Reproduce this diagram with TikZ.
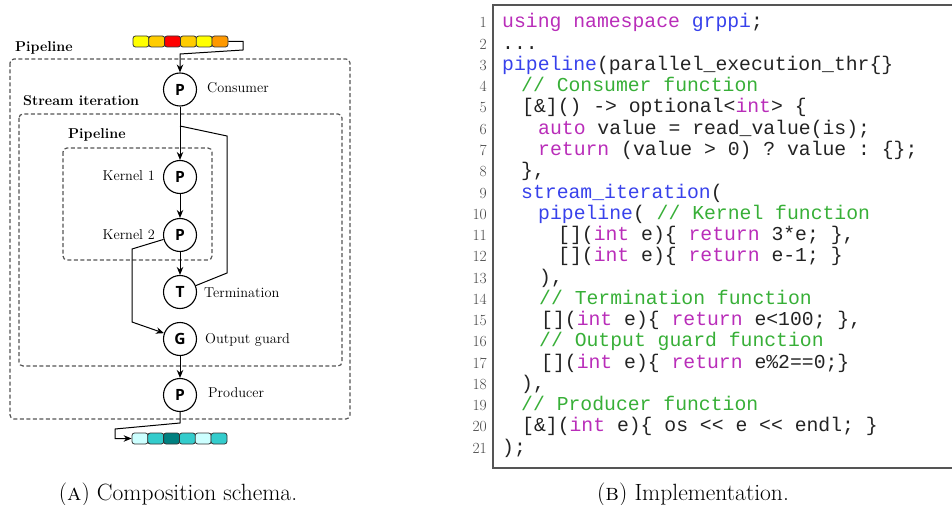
\documentclass[tikz,border=0pt]{standalone}
\usepackage{fontspec}
\setmonofont{Liberation Mono}
\newfontfamily\circfont{Open Sans}
\usetikzlibrary{arrows.meta}

% syntax colours for the listing
\definecolor{kwc}{RGB}{185,45,185}
\definecolor{idc}{RGB}{55,65,235}
\definecolor{cmc}{RGB}{55,175,55}
\definecolor{codetext}{RGB}{35,35,35}
\definecolor{numc}{RGB}{70,70,70}
\definecolor{frame}{RGB}{85,85,85}
% queue cell colours
\definecolor{qy}{RGB}{255,255,0}
\definecolor{qg}{RGB}{255,204,0}
\definecolor{qr}{RGB}{255,0,0}
\definecolor{qo}{RGB}{255,153,0}
\definecolor{ql}{RGB}{204,255,255}
\definecolor{qt}{RGB}{51,204,204}
\definecolor{qd}{RGB}{0,128,128}

\newcommand\kw[1]{\textcolor{kwc}{#1}}
\newcommand\idn[1]{\textcolor{idc}{#1}}
\newcommand\cmnt[1]{\textcolor{cmc}{#1}}

\tikzset{
  dbox/.style={draw=frame, line width=1.2pt, dash pattern=on 4pt off 2.5pt, rounded corners=4pt},
  circ/.style={circle, draw, line width=1.1pt, minimum size=33pt, inner sep=0pt,
    font={\circfont\bfseries\fontsize{15.5}{17}\selectfont}},
  lbl/.style={inner sep=0pt, font={\fontsize{14.3}{16}\selectfont}},
  grp/.style={inner sep=0pt, font={\bfseries\fontsize{14.3}{16}\selectfont}},
  qbox/.style={draw=black!80, line width=0.8pt, rounded corners=2.5pt,
    minimum width=16pt, minimum height=11pt, inner sep=0pt},
  arr/.style={line width=1pt, -{Stealth[length=8pt,width=6.5pt]}},
  wire/.style={line width=1pt},
  codeline/.style={anchor=base west, inner sep=0pt, text=codetext,
    font={\ttfamily\fontsize{19.75}{22}\selectfont}},
  lnum/.style={anchor=base east, inner sep=0pt, text=numc,
    font={\fontsize{15.5}{17}\selectfont}},
  capt/.style={anchor=base, inner sep=0pt, font={\fontsize{23.5}{26}\selectfont}},
}

\begin{document}
\begin{tikzpicture}[x=1pt,y=-1pt]
\useasboundingbox (0,0) rectangle (952,505);

% ---------- composition schema ----------
\draw[dbox] (10,59) rectangle (350,419);
\draw[dbox] (19,114) rectangle (342,366);
\draw[dbox] (63,148) rectangle (212,260);

\node[grp, anchor=base west] (gpipe) at (15,52) {Pipeline};
\node[grp, anchor=base west] (gstream) at (23,106) {Stream iteration};
\node[grp, anchor=base west] (ginner) at (68,139) {Pipeline};

% input and output streams
\foreach \c [count=\i] in {qy,qg,qr,qg,qy,qo}
  \node[qbox, fill=\c] (in\i) at ({141+(\i-1)*15.8},41.5) {};
\foreach \c [count=\i] in {ql,qt,qd,qt,ql,qt}
  \node[qbox, fill=\c] (out\i) at ({140+(\i-1)*15.8},438.5) {};

% stages
\node[circ] (cons) at (180,89.5) {P};
\node[circ] (k1) at (180,177) {P};
\node[circ] (k2) at (180,235) {P};
\node[circ] (term) at (180,292) {T};
\node[circ] (guard) at (180,339) {G};
\node[circ] (prod) at (180,395) {P};

\node[lbl, anchor=base west] (lcons) at (207,93) {Consumer};
\node[lbl, anchor=base east] (lk1) at (155,181) {Kernel 1};
\node[lbl, anchor=base east] (lk2) at (155,239) {Kernel 2};
\node[lbl, anchor=base west] (lterm) at (204,297) {Termination};
\node[lbl, anchor=base west] (lguard) at (205,343.5) {Output guard};
\node[lbl, anchor=base west] (lprod) at (208,397) {Producer};

% connectors
\coordinate (ia) at (243,41.5);
\coordinate (ib) at (243,50);
\coordinate (ic) at (180,54);
\draw[arr] (in6.east) -- (ia) -- (ib) -- (ic) -- (cons.north);
\draw[arr] (cons) -- (k1);
\draw[arr] (k1) -- (k2);
\draw[arr] (k2) -- (term);

\coordinate (fa) at (180,126);
\coordinate (fb) at (227,136);
\coordinate (fc) at (227,273);
\draw[wire] (term.22) -- (fc) -- (fb) -- (fa);

\coordinate (ga) at (132,249);
\coordinate (gb) at (132,322);
\draw[arr] (k2.195) -- (ga) -- (gb) -- (guard.160);
\draw[arr] (guard) -- (prod);

\coordinate (oa) at (180,423);
\coordinate (ob) at (115,429);
\coordinate (oc) at (115,438.5);
\draw[arr] (prod.south) -- (oa) -- (ob) -- (oc) -- (out1.west);

% ---------- implementation listing ----------
\draw[frame, line width=1.5pt] (953,5) -- (493,5) -- (493,468) -- (953,468);

\foreach \n in {1,...,21}
  \node[lnum] (N\n) at (487,{28+(\n-1)*21.25}) {\n};

\node[codeline] (L1) at (502,28) {\kw{using namespace} \idn{grppi};};
\node[codeline] (L2) at (502,49.25) {...};
\node[codeline] (L3) at (502,70.5) {\idn{pipeline}(parallel\_execution\_thr\{\}};
\node[codeline] (L4) at (521,91.75) {\cmnt{// Consumer function}};
\node[codeline] (L5) at (522,113) {[\&]() -> optional<\kw{int}> \{};
\node[codeline] (L6) at (538,134.25) {\kw{auto} value = read\_value(is);};
\node[codeline] (L7) at (538,155.5) {\kw{return} (value > 0) ? value : \{\};};
\node[codeline] (L8) at (521,176.75) {\},};
\node[codeline] (L9) at (521,198) {\idn{stream\_iteration}(};
\node[codeline] (L10) at (538,219.25) {\idn{pipeline}( \cmnt{// Kernel function}};
\node[codeline] (L11) at (558,240.5) {[](\kw{int} e)\{ \kw{return} 3*e; \},};
\node[codeline] (L12) at (558,261.75) {[](\kw{int} e)\{ \kw{return} e-1; \}};
\node[codeline] (L13) at (539,283) {),};
\node[codeline] (L14) at (539,304.25) {\cmnt{// Termination function}};
\node[codeline] (L15) at (541,325.5) {[](\kw{int} e)\{ \kw{return} e<100; \},};
\node[codeline] (L16) at (539,346.75) {\cmnt{// Output guard function}};
\node[codeline] (L17) at (541,368) {[](\kw{int} e)\{ \kw{return} e\%2==0;\}};
\node[codeline] (L18) at (521,389.25) {),};
\node[codeline] (L19) at (521,410.5) {\cmnt{// Producer function}};
\node[codeline] (L20) at (522,431.75) {[\&](\kw{int} e)\{ os << e << endl; \}};
\node[codeline] (L21) at (502,453) {);};

% ---------- captions ----------
\node[capt] (capA) at (178,500) {(\textsc{a}) Composition schema.};
\node[capt] (capB) at (693,500) {(\textsc{b}) Implementation.};
\end{tikzpicture}
\end{document}
